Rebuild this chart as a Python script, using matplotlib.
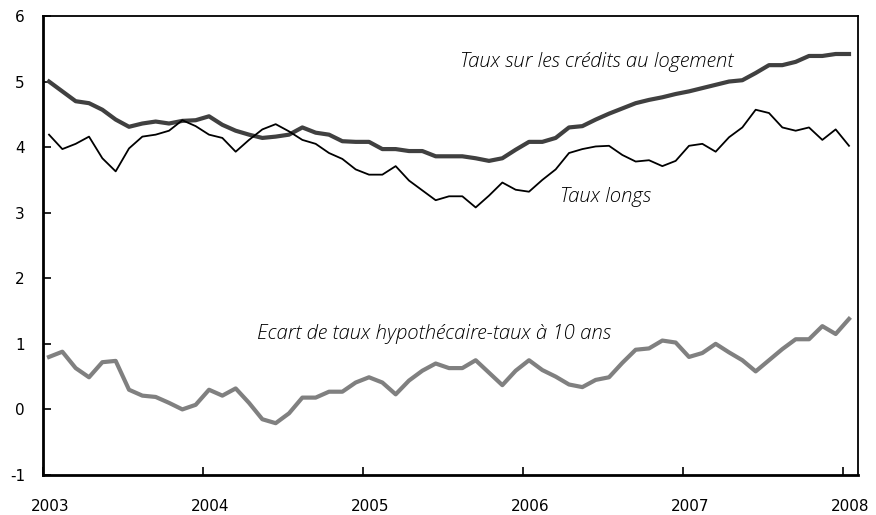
import numpy as np
import matplotlib
matplotlib.use("Agg")
import matplotlib.pyplot as plt
import matplotlib.transforms as mtransforms

# monthly data, Jan 2003 - Jan 2008
mortgage = [5.00, 4.85, 4.70, 4.67, 4.57, 4.42, 4.31, 4.36, 4.39, 4.36,
            4.40, 4.41, 4.47, 4.34, 4.25, 4.19, 4.14, 4.16, 4.19, 4.30,
            4.22, 4.19, 4.09, 4.08, 4.08, 3.97, 3.97, 3.94, 3.94, 3.86,
            3.86, 3.86, 3.83, 3.79, 3.83, 3.96, 4.08, 4.08, 4.14, 4.30,
            4.32, 4.42, 4.51, 4.59, 4.67, 4.72, 4.76, 4.81, 4.85, 4.90,
            4.95, 5.00, 5.02, 5.13, 5.25, 5.25, 5.30, 5.39, 5.39, 5.42,
            5.42]
long_rates = [4.19, 3.97, 4.05, 4.16, 3.83, 3.63, 3.98, 4.16, 4.19, 4.25,
              4.41, 4.32, 4.19, 4.14, 3.93, 4.11, 4.27, 4.35, 4.24, 4.11,
              4.05, 3.91, 3.82, 3.66, 3.58, 3.58, 3.71, 3.49, 3.34, 3.19,
              3.25, 3.25, 3.08, 3.26, 3.46, 3.35, 3.32, 3.50, 3.66, 3.91,
              3.97, 4.01, 4.02, 3.88, 3.78, 3.80, 3.71, 3.79, 4.02, 4.05,
              3.93, 4.15, 4.30, 4.57, 4.52, 4.30, 4.25, 4.30, 4.11, 4.27,
              4.02]
spread = [0.80, 0.88, 0.63, 0.49, 0.72, 0.74, 0.30, 0.21, 0.19, 0.10,
          0.00, 0.07, 0.30, 0.21, 0.32, 0.10, -0.15, -0.21, -0.06, 0.18,
          0.18, 0.27, 0.27, 0.41, 0.49, 0.41, 0.23, 0.44, 0.59, 0.70,
          0.63, 0.63, 0.75, 0.56, 0.37, 0.59, 0.75, 0.60, 0.50, 0.38,
          0.34, 0.45, 0.49, 0.71, 0.91, 0.93, 1.05, 1.02, 0.80, 0.86,
          1.00, 0.87, 0.75, 0.58, 0.75, 0.92, 1.07, 1.07, 1.27, 1.15,
          1.38]
years = [2003, 2004, 2005, 2006, 2007, 2008]
yticks = [-1, 0, 1, 2, 3, 4, 5, 6]

dates = 2003 + (np.arange(len(mortgage)) + 0.45) / 12

fig = plt.figure(figsize=(8.76, 5.15), dpi=100)
ax = fig.add_axes([0.0491, 0.0777, 0.9304, 0.8913])

ax.plot(dates, mortgage, color="#404040", lw=3.0, solid_joinstyle="round")
ax.plot(dates, long_rates, color="black", lw=1.3)
ax.plot(dates, spread, color="#808080", lw=3.0, solid_joinstyle="round")

ax.set_xlim(2003, 2008.094)
ax.set_ylim(-1, 6)
ax.set_xticks(years)
ax.set_xticklabels([str(y) for y in years])
ax.set_yticks(yticks)
ax.set_yticklabels([str(v) for v in yticks])

ax.tick_params(axis="both", direction="in", length=6, width=1.2,
               labelsize=11, color="black")
ax.tick_params(axis="x", pad=17)
ax.tick_params(axis="y", pad=13)
for side in ["left", "bottom"]:
    ax.spines[side].set_linewidth(2.0)
for side in ["top", "right"]:
    ax.spines[side].set_linewidth(1.3)

# year labels sit a little right of their ticks in the original
offset = mtransforms.ScaledTranslation(7 / 100, 0, fig.dpi_scale_trans)
for lab in ax.get_xticklabels():
    lab.set_transform(lab.get_transform() + offset)

font = dict(family="Open Sans", style="italic", fontweight="light",
            fontsize=14.7, color="black")
ax.text(2005.606, 5.30, "Taux sur les crédits au logement", va="center", **font)
ax.text(2006.23, 3.24, "Taux longs", va="center", **font)
ax.text(2004.34, 1.15, "Ecart de taux hypothécaire-taux à 10 ans", va="center", **font)

fig.savefig("out.png", dpi=100)
